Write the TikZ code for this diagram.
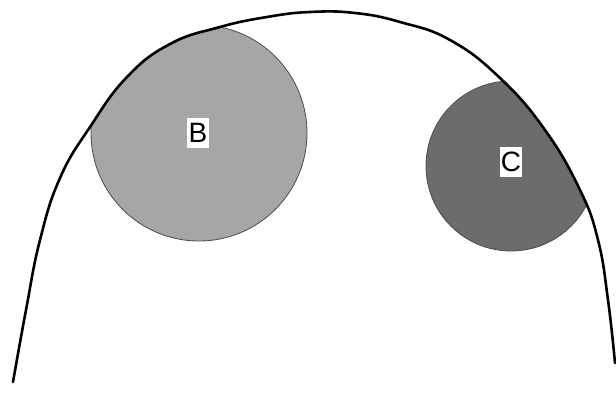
\documentclass[tikz,border=0pt]{standalone}
\usepackage{fontspec}
\setsansfont{Liberation Sans}
\usetikzlibrary{positioning}
\definecolor{SpotLight}{HTML}{A6A6A6}
\definecolor{SpotDark}{HTML}{6C6C6C}

\begin{document}
\begin{tikzpicture}[
    x=1pt,
    y=-1pt,
    spot/.style={draw=black!70, line width=0.8pt},
    tag/.style={
        fill=white,
        inner sep=0pt,
        minimum width=22pt,
        minimum height=30pt,
        font=\sffamily\fontsize{28}{30}\selectfont
    },
    arch/.style={line width=2.6pt, line cap=round}
]

% =====================================================
% FRAME
% =====================================================
\useasboundingbox (0,0) rectangle (616,394);

% =====================================================
% SPOTS (kept inside the arch)
% =====================================================
\begin{scope}
    \clip plot[smooth, tension=0.75] coordinates {
        (13,382) (26,310) (40,240) (60,178) (90,127) (127,77)
        (170,44) (220,27) (267,17) (310,12) (355,13) (400,22)
        (450,40) (500,78) (545,130) (580,190) (598,240) (608,300)
        (615,363)
    } -- cycle;

    % spot B
    \filldraw[spot, fill=SpotLight] (199,133) circle (108);

    % spot C
    \filldraw[spot, fill=SpotDark] (511,166) circle (85);
\end{scope}

% =====================================================
% ARCH OUTLINE
% =====================================================
\draw[arch] plot[smooth, tension=0.75] coordinates {
    (13,382) (26,310) (40,240) (60,178) (90,127) (127,77)
    (170,44) (220,27) (267,17) (310,12) (355,13) (400,22)
    (450,40) (500,78) (545,130) (580,190) (598,240) (608,300)
    (615,363)
};

% =====================================================
% LABELS
% =====================================================
\node[tag] (labB) at (198,133) {B};
\node[tag] (labC) at (511,162) {C};

\end{tikzpicture}
\end{document}
